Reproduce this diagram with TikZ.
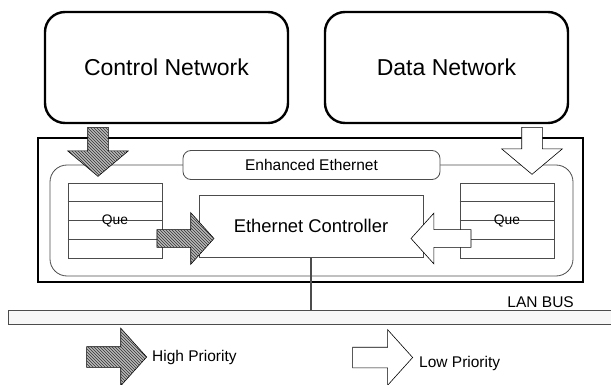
\documentclass[tikz,border=0pt]{standalone}
\usepackage{fontspec}
\setmainfont{Liberation Sans}
\usetikzlibrary{shapes.arrows,patterns,calc}

\begin{document}
\begin{tikzpicture}[
  x=1pt,y=-1pt,
  network/.style={draw,line width=2.4pt,rounded corners=20pt,minimum width=243pt,minimum height=111pt,font=\fontsize{23}{27}\selectfont},
  box/.style={draw=black!70,line width=0.8pt,inner sep=0},
  que/.style={box,minimum width=94pt,minimum height=75pt},
  high/.style={single arrow,draw,line width=0.6pt,fill=gray!55,postaction={pattern=north west lines,pattern color=black!80},inner sep=0,single arrow tip angle=96},
  low/.style={single arrow,draw,line width=0.6pt,fill=white,inner sep=0,single arrow tip angle=96},
  smallfont/.style={font=\fontsize{15.5}{18}\selectfont,inner sep=0},
]
  \useasboundingbox (0,0) rectangle (611,385);

  % the two networks
  \node[network] (ctrlnet) at (166.5,67.5) {Control Network};
  \node[network] (datanet) at (446.5,67.5) {Data Network};

  % enhanced ethernet block
  \node[draw,line width=2.6pt,minimum width=545pt,minimum height=144pt] (ee) at (310.5,210) {};
  \node[box,rounded corners=17pt,minimum width=523pt,minimum height=111pt] (inner) at (311.5,220.5) {};
  \node[box,smallfont,fill=white,rounded corners=8pt,minimum width=257pt,minimum height=29pt] (enh) at (311.5,165) {Enhanced Ethernet};

  \node[que] (queL) at (115,220.5) {};
  \node[que] (queR) at (507,220.5) {};
  \foreach \q in {queL,queR}{
    \foreach \f in {0.25,0.5,0.75}
      \draw[black!70,line width=0.7pt] ($(\q.north west)!\f!(\q.south west)$) -- ($(\q.north east)!\f!(\q.south east)$);
    \node[font=\fontsize{13.8}{16}\selectfont,inner sep=0] (\q-txt) at (\q) {Que};
  }

  \node[box,minimum width=224pt,minimum height=62pt,font=\fontsize{18.4}{22}\selectfont] (ctl) at (311,226) {Ethernet Controller};

  % priority arrows
  \node[high,rotate=-90,minimum height=49pt,inner ysep=10pt,single arrow head extend=20pt,single arrow tip angle=100] (ctrlarrow) at (98,147.5) {};
  \node[low,rotate=-90,minimum height=47pt,inner ysep=10pt,single arrow head extend=20pt,single arrow tip angle=100] (dataarrow) at (532,146.5) {};
  \node[high,minimum height=57pt,inner ysep=8.5pt,single arrow head extend=17pt] (quearrowL) at (181.5,238.5) {};
  \node[low,shape border rotate=180,minimum height=60pt,inner ysep=8.5pt,single arrow head extend=16.5pt] (quearrowR) at (445,238.5) {};

  % lan bus
  \node[draw=black!70,line width=0.7pt,fill=gray!6,minimum width=612pt,minimum height=14pt,inner sep=0] (bus) at (314,317) {};
  \node[smallfont,anchor=base east] (buslabel) at (574,307.5) {LAN BUS};
  \draw[line width=1.4pt,black!70] (ctl.south) -- (ctl.south |- bus.north);

  % legend
  \node[high,minimum height=60pt,inner ysep=10pt,single arrow head extend=18.5pt] (hikey) at (112,357) {};
  \node[smallfont,anchor=base west] (hitext) at (152,361.5) {High Priority};
  \node[low,minimum height=60pt,inner ysep=10pt,single arrow head extend=17.5pt] (lokey) at (378,357.5) {};
  \node[smallfont,anchor=base west] (lotext) at (419,367.5) {Low Priority};
\end{tikzpicture}
\end{document}
